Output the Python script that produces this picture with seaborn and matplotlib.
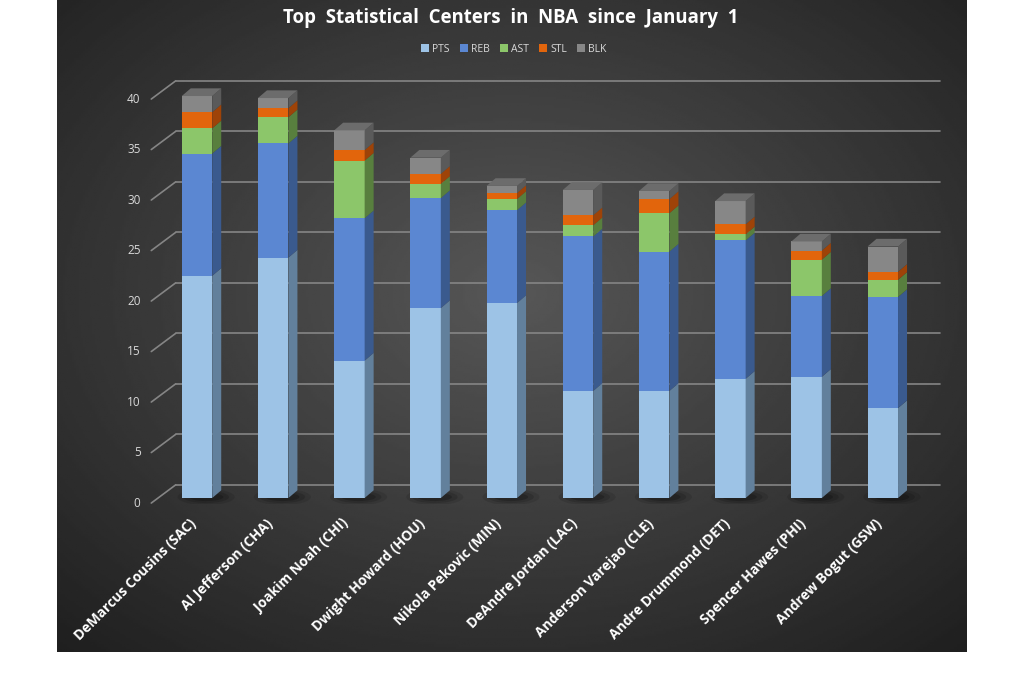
import seaborn as sns
import matplotlib.pyplot as plt
import matplotlib.transforms as mtransforms
import numpy as np
import pandas as pd
from matplotlib.patches import Polygon, Ellipse

players = ["DeMarcus Cousins (SAC)", "Al Jefferson (CHA)", "Joakim Noah (CHI)",
           "Dwight Howard (HOU)", "Nikola Pekovic (MIN)", "DeAndre Jordan (LAC)",
           "Anderson Varejao (CLE)", "Andre Drummond (DET)", "Spencer Hawes (PHI)",
           "Andrew Bogut (GSW)"]
pts = [22.0, 23.8, 13.6, 18.8, 19.3, 10.6, 10.6, 11.8, 12.0, 8.9]
reb = [12.1, 11.3, 14.1, 10.9, 9.2, 15.3, 13.8, 13.7, 8.0, 11.0]
ast = [2.5, 2.6, 5.7, 1.4, 1.1, 1.1, 3.8, 0.6, 3.6, 1.7]
stl = [1.6, 0.9, 1.05, 1.0, 0.6, 1.0, 1.4, 1.0, 0.9, 0.8]
blk = [1.6, 1.0, 1.95, 1.6, 0.7, 2.5, 0.8, 2.3, 0.9, 2.5]
stats = ["PTS", "REB", "AST", "STL", "BLK"]
yticks = [0, 5, 10, 15, 20, 25, 30, 35, 40]

front = {"PTS": "#9dc3e6", "REB": "#5b87d2", "AST": "#8cc66a", "STL": "#e2650c", "BLK": "#878787"}
side = {"PTS": "#62809c", "REB": "#3a5a8e", "AST": "#587f3e", "STL": "#9e4308", "BLK": "#5a5a5a"}
top_col = {"BLK": "#6c6c6c"}

df = pd.DataFrame({"player": players, "PTS": pts, "REB": reb, "AST": ast, "STL": stl, "BLK": blk})

sns.set_style("dark")
plt.rcParams['font.family'] = ['Open Sans', 'DejaVu Sans']

fig = plt.figure(figsize=(10.3, 6.85), dpi=100)
W, H = 1030, 685

# gradient panel
bg = fig.add_axes([57 / W, 1 - 652 / H, 910 / W, 652 / H])
gx, gy = np.meshgrid(np.linspace(0, 1, 400), np.linspace(0, 1, 300))
r = np.sqrt(((gx - 0.5) / 0.75) ** 2 + ((gy - 0.45) / 0.75) ** 2)
shade = np.clip(0.34 - 0.22 * r, 0.12, 0.34)
bg.imshow(shade, cmap="gray", vmin=0, vmax=1, aspect="auto", extent=[0, 1, 1, 0])
bg.axis("off")

# main axes laid over the panel
x0, xs, y0, ys = 197, 76.2, 498, 10.1
xl, yl = (-1.0, 9.8), (-0.6, 41.6)
ax = fig.add_axes([(x0 + xl[0] * xs) / W, 1 - (y0 - yl[0] * ys) / H,
                   (xl[1] - xl[0]) * xs / W, (yl[1] - yl[0]) * ys / H])
ax.patch.set_alpha(0)
ax.set_xlim(*xl)
ax.set_ylim(*yl)

# back wall grid
for v in yticks:
    ax.plot([-0.28, 9.75], [v + 1.3, v + 1.3], color="#858585", lw=1.2, zorder=1)
    ax.plot([-0.60, -0.28], [v - 0.5, v + 1.3], color="#858585", lw=1.2, zorder=1)
    ax.text(-0.74, v - 0.5, str(v), color="#d9d9d9", fontsize=8.5, ha="right", va="center")

bw, dx, dy = 0.4, 0.118, 0.76

# soft floor shadows
for i in range(len(players)):
    for k, a in enumerate([0.10, 0.14, 0.2]):
        ax.add_patch(Ellipse((i + 0.12, 0.1), 0.75 - 0.15 * k, 1.6 - 0.4 * k,
                             facecolor="black", alpha=a, edgecolor="none", zorder=2))

bottom = np.zeros(len(players))
for s in stats:
    sns.barplot(data=df, x="player", y=s, bottom=bottom, color=front[s], saturation=1,
                width=bw, ax=ax, label=s, zorder=3, linewidth=0)
    vals = df[s].values
    for i in range(len(players)):
        b, t = bottom[i], bottom[i] + vals[i]
        xr = i + bw / 2
        ax.add_patch(Polygon([(xr, b), (xr + dx, b + dy), (xr + dx, t + dy), (xr, t)],
                             closed=True, facecolor=side[s], edgecolor="none", zorder=3))
    bottom = bottom + vals

for i in range(len(players)):
    t = bottom[i]
    ax.add_patch(Polygon([(i - bw / 2, t), (i - bw / 2 + dx, t + dy), (i + bw / 2 + dx, t + dy),
                          (i + bw / 2, t)], closed=True, facecolor=top_col["BLK"],
                         edgecolor="none", zorder=3))

ax.set_xlim(*xl)
ax.set_ylim(*yl)
ax.set_xlabel("")
ax.set_ylabel("")
ax.set_yticks([])
ax.set_xticks(range(len(players)))
ax.set_xticklabels(players, rotation=45, ha="right", rotation_mode="anchor",
                   color="white", fontsize=10, fontweight="bold")
ax.tick_params(axis="x", length=0, pad=9)
shift = mtransforms.ScaledTranslation(-8 / 100, 0, fig.dpi_scale_trans)
for lab in ax.get_xticklabels():
    lab.set_transform(lab.get_transform() + shift)
ax.grid(False)
for sp in ax.spines.values():
    sp.set_visible(False)

handles, labels = ax.get_legend_handles_labels()
if ax.legend_:
    ax.legend_.remove()
fig.legend(handles, labels, loc="center", bbox_to_anchor=(514 / W, 1 - 49 / H), ncol=5,
           frameon=False, fontsize=7.5, labelcolor="#d9d9d9", handlelength=0.75,
           handleheight=0.75, handletextpad=0.3, columnspacing=1.0)

fig.text(511 / W, 1 - 18 / H, "Top  Statistical  Centers  in  NBA  since  January  1",
         ha="center", va="center", color="white", fontsize=13.4, fontweight="bold")

fig.savefig("out.png", dpi=100)
